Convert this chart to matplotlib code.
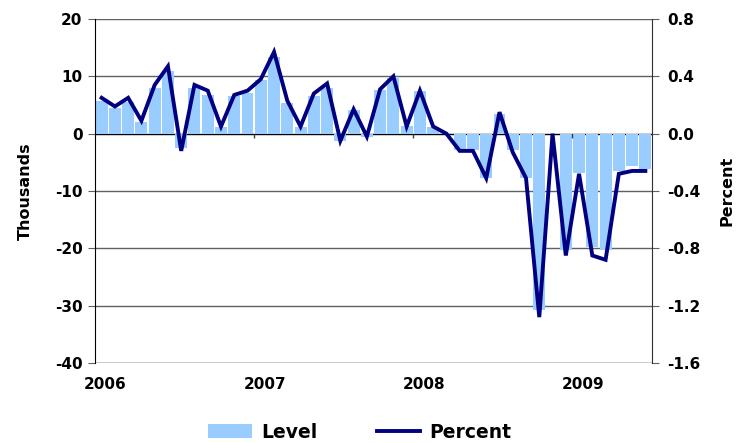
import matplotlib
matplotlib.use("Agg")
import matplotlib.pyplot as plt
import numpy as np

plt.rcParams['font.family'] = ['DejaVu Sans']
plt.rcParams['axes.unicode_minus'] = False

# Monthly data, Jan 2006 - Jun 2009
level = [5.7, 4.5, 5.6, 2.1, 7.9, 11.0, -2.5, 7.9, 6.7, 1.2, 6.5, 7.1,
         9.4, 13.4, 5.3, 1.2, 6.5, 8.0, -1.2, 4.2, -0.6, 7.6, 9.7, 1.3,
         7.4, 1.2, 0.1, -2.9, -2.9, -7.7, 3.4, -2.9, -7.7, -30.7, 0.0, -20.3,
         -6.85, -19.7, -20.3, -6.5, -5.7, -6.1]
percent = [0.25, 0.19, 0.25, 0.09, 0.34, 0.47, -0.12, 0.34, 0.30, 0.05, 0.27, 0.30,
           0.38, 0.57, 0.23, 0.05, 0.28, 0.35, -0.05, 0.17, -0.02, 0.31, 0.40, 0.05,
           0.30, 0.05, 0.0, -0.12, -0.12, -0.31, 0.15, -0.13, -0.31, -1.28, 0.0, -0.85,
           -0.28, -0.85, -0.88, -0.28, -0.26, -0.26]
year_labels = ['2006', '2007', '2008', '2009']
left_ticks = [20, 10, 0, -10, -20, -30, -40]
right_ticks = [0.8, 0.4, 0.0, -0.4, -0.8, -1.2, -1.6]

n = len(level)
x = np.arange(n)

fig = plt.figure(figsize=(7.41, 4.43), dpi=100)
ax = fig.add_axes([95/741, 1 - 363/443, (652-95)/741, (363-19)/443])

grid_c = '#606060'
for t in left_ticks:
    ax.axhline(t, color=('black' if t in (0, -40) else grid_c), lw=1.0, zorder=1)

ax.bar(x, level, width=0.9, color='#99CCFF', zorder=2, label='Level')
ax.set_xlim(-0.5, n - 0.5)
ax.set_ylim(-40, 20)
ax.set_yticks(left_ticks)
ax.set_yticklabels([str(t) for t in left_ticks])

# year tick marks on the zero line
year_starts = np.arange(0, n, 12) - 0.5
ax.vlines(year_starts[1:], -0.8, 0, color='#404040', lw=1, zorder=3)
ax.set_xticks(np.arange(0, n, 12) + 0.3)
ax.set_xticklabels(year_labels)
ax.tick_params(axis='x', length=0, pad=10, labelsize=11)
ax.tick_params(axis='y', direction='out', length=5, color=grid_c, labelsize=11, pad=4)
for lab in ax.get_xticklabels() + ax.get_yticklabels():
    lab.set_fontweight('bold')

ax.spines['top'].set_visible(False)
ax.spines['left'].set_color('black')
ax.spines['bottom'].set_visible(False)
ax.spines['right'].set_visible(False)

ax.set_ylabel('Thousands', fontsize=11.5, fontweight='bold', labelpad=16)

ax2 = ax.twinx()
ax2.plot(x, percent, color='#000080', lw=2.8, zorder=4, label='Percent', solid_joinstyle='miter')
ax2.set_ylim(-1.6, 0.8)
ax2.set_yticks(right_ticks)
ax2.set_yticklabels([f'{t:.1f}' for t in right_ticks])
ax2.tick_params(axis='y', direction='out', length=5, color=grid_c, labelsize=11, pad=6)
for lab in ax2.get_yticklabels():
    lab.set_fontweight('bold')
ax2.spines['top'].set_visible(False)
ax2.spines['bottom'].set_visible(False)
ax2.spines['left'].set_visible(False)
ax2.spines['right'].set_color('#303030')
ax2.set_ylabel('Percent', fontsize=11.5, fontweight='bold', rotation=90, labelpad=14)
ax2.yaxis.set_label_position('right')

h1, l1 = ax.get_legend_handles_labels()
h2, l2 = ax2.get_legend_handles_labels()
leg = fig.legend(h1 + h2, l1 + l2, loc='center', bbox_to_anchor=(360/741, 1 - 432/443),
                 ncol=2, frameon=False, prop={'size': 13.5, 'weight': 'bold'},
                 handlelength=2.3, handleheight=0.8, columnspacing=3.2, handletextpad=0.5)

fig.savefig('out.png', dpi=100)
